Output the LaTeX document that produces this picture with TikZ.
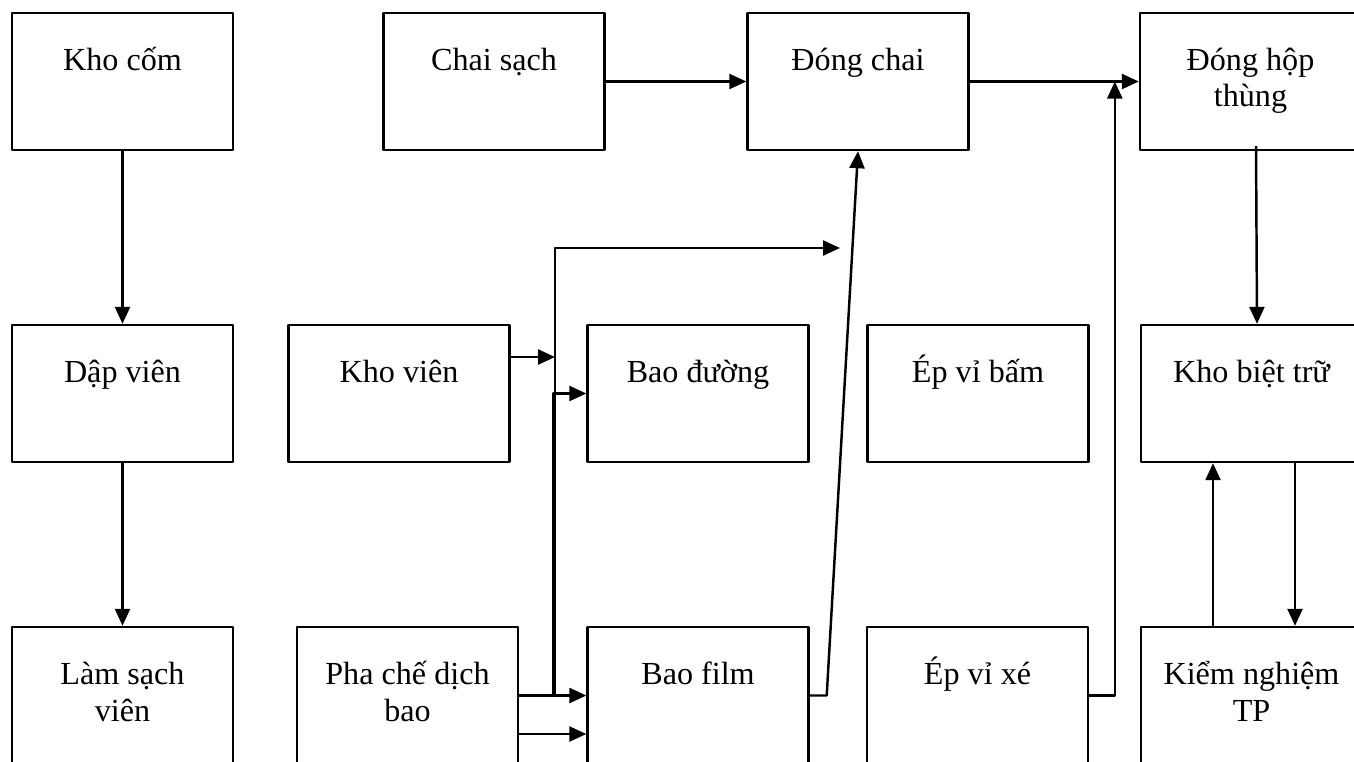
\documentclass[tikz,border=0pt]{standalone}
\usepackage{fontspec}
\setmainfont{Liberation Serif}
\usetikzlibrary{arrows.meta,calc}
\tikzset{
	box/.style={draw, line width=1.4pt, minimum width=4.42cm, minimum height=2.74cm, inner sep=0pt},
	lbl/.style={anchor=base, align=center, inner sep=0pt},
	flow/.style={->, line width=1.4pt}
}
\begin{document}
\begin{tikzpicture}[x=0.02cm, y=-0.02cm, >={Triangle[length=0.34cm,width=0.3cm]}, font=\fontsize{18.3}{21}\selectfont, line join=round]
				\path[use as bounding box, clip] (0,0) rectangle (1354,761);
				% ba hang hop (\s: dich chu theo so dong)
				\foreach \n/\x/\y/\s/\t in {kc/122.5/81.5/0.23/{Kho cốm}, cs/494/81.5/0.23/{Chai sạch}, dc/858/81.5/0.23/{Đóng chai}, dh/1250.5/81.5/-0.51/{Đóng hộp\\thùng},
					dv/122.5/393.5/0.23/{Dập viên}, kv/399/393.5/0.23/{Kho viên}, bd/698/393.5/0.23/{Bao đường}, eb/978/393.5/0.23/{Ép vỉ bấm}, kb/1251.5/393.5/0.23/{Kho biệt trữ},
					ls/122.5/695.5/-0.51/{Làm sạch\\viên}, pc/407.5/695.5/-0.51/{Pha chế dịch\\bao}, bf/698/695.5/0.23/{Bao film}, ex/977.5/695.5/0.23/{Ép vỉ xé}, kn/1251.5/695.5/-0.51/{Kiểm nghiệm\\TP}}
				{\node[box] (\n) at (\x,\y) {};
					\node[lbl] (\n t) at ([yshift=\s cm]\n.center) {\t};}
				\coordinate (busT) at (555,248);
				\coordinate (busE) at (840,248);
				\coordinate (busL) at (553,248);
				% mui ten
				\draw[flow] (kc.south) -- (dv.north);
				\draw[flow] (dv.south) -- (ls.north);
				\draw[flow] (cs.east) -- (dc.west);
				\draw[flow] (dc.east) -- (dh.west);
				\draw[flow] (ex.east) -| ([xshift=-0.48cm]dh.west);
				\draw[flow] ([xshift=0.11cm,yshift=0.1cm]dh.south) -- ([xshift=0.11cm]kb.north);
				\draw[flow] ([xshift=0.87cm]kb.south) -- ([xshift=0.87cm]kn.north);
				\draw[flow] ([xshift=-0.77cm]kn.north) -- ([xshift=-0.77cm]kb.south);
				\draw[flow] ([yshift=0.73cm]kv.east) -- ([yshift=0.73cm]kv.east -| busT);
				\draw[flow] (pc.east) -- (bf.west);
				\draw[flow] ([yshift=-0.77cm]pc.east) -- ([yshift=-0.77cm]bf.west);
				\draw[flow] (pc.east -| busL) |- (bd.west);
				\draw[flow] (pc.east -| busT) -- (busT) -- (busE);
				\draw[flow] (bf.east) -- ++(17,0) -- (dc.south);
			\end{tikzpicture}
\end{document}
